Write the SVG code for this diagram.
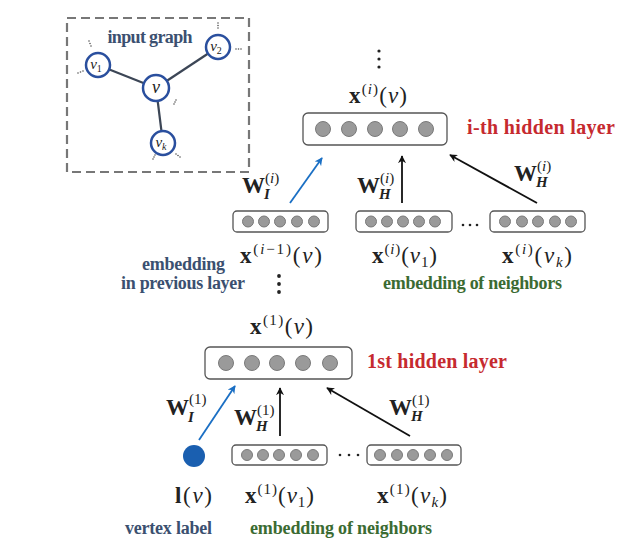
<svg xmlns="http://www.w3.org/2000/svg" width="643" height="556" viewBox="0 0 643 556">
<defs>
<style>
.m{font-family:"Liberation Serif","DejaVu Serif",serif;fill:#222;}
.b{font-weight:bold;}
.i{font-style:italic;}
.lbl{font-family:"Liberation Serif","DejaVu Serif",serif;font-weight:bold;font-size:18px;}
.slate{fill:#3b5070;}
.green{fill:#3b6b32;}
.red{fill:#c62a2f;font-size:20px;}
.box{fill:#fff;stroke:#555;stroke-width:1.3;}
.neu{fill:#9a9a9a;stroke:#7a7a7a;stroke-width:1;}
.gn{fill:#fff;stroke:#2a4f9e;stroke-width:2.5;}
.ge{stroke:#3c4656;stroke-width:2.2;}
.dot{fill:#222;}
.gd{fill:#555;}
.ab{stroke:#1a6fc4;stroke-width:1.8;fill:none;}
.ak{stroke:#111;stroke-width:1.8;fill:none;}
</style>
<marker id="hb" viewBox="0 0 10 10" refX="9" refY="5" markerWidth="8" markerHeight="8" orient="auto" markerUnits="userSpaceOnUse">
<path d="M0,0 L10,5 L0,10 L3,5 Z" fill="#1a6fc4"/>
</marker>
<marker id="hk" viewBox="0 0 10 10" refX="9" refY="5" markerWidth="8" markerHeight="8" orient="auto" markerUnits="userSpaceOnUse">
<path d="M0,0 L10,5 L0,10 L3,5 Z" fill="#111"/>
</marker>
</defs>
<rect width="643" height="556" fill="#fff"/>

<g id="input-graph">
<rect x="67" y="18" width="182" height="154" fill="none" stroke="#777" stroke-width="2.2" stroke-dasharray="9,5"/>
<text x="150" y="43" text-anchor="middle" class="lbl slate" textLength="85">input graph</text>
<line class="ge" x1="98" y1="65" x2="156" y2="88"/>
<line class="ge" x1="156" y1="88" x2="218" y2="47"/>
<line class="ge" x1="156" y1="88" x2="163" y2="143"/>
<circle class="gn" cx="98" cy="65" r="12"/>
<circle class="gn" cx="218" cy="47" r="12"/>
<circle class="gn" cx="156" cy="88" r="13"/>
<circle class="gn" cx="163" cy="143" r="12"/>
<text x="156" y="93" text-anchor="middle" class="m i" font-size="18">v</text>
<text x="96" y="69" text-anchor="middle" class="m i" font-size="15">v<tspan font-size="10" dy="3" font-style="normal">1</tspan></text>
<text x="216" y="51" text-anchor="middle" class="m i" font-size="15">v<tspan font-size="10" dy="3" font-style="normal">2</tspan></text>
<text x="161" y="147" text-anchor="middle" class="m i" font-size="15">v<tspan font-size="10" dy="3">k</tspan></text>
<g class="gd">
<circle cx="89" cy="41" r="0.8"/><circle cx="90" cy="43.5" r="0.8"/><circle cx="91" cy="46" r="0.8"/>
<circle cx="78" cy="73" r="0.8"/><circle cx="80.5" cy="72" r="0.8"/><circle cx="83" cy="71" r="0.8"/>
<circle cx="218" cy="23" r="0.8"/><circle cx="218" cy="25.5" r="0.8"/><circle cx="218" cy="28" r="0.8"/>
<circle cx="236" cy="49" r="0.8"/><circle cx="238.5" cy="49" r="0.8"/><circle cx="241" cy="49" r="0.8"/>
<circle cx="174" cy="104" r="0.8"/><circle cx="175" cy="102" r="0.8"/><circle cx="176" cy="100" r="0.8"/>
<circle cx="153" cy="159" r="0.8"/><circle cx="154" cy="157" r="0.8"/><circle cx="155" cy="155" r="0.8"/>
<circle cx="176" cy="154" r="0.8"/><circle cx="178" cy="155.5" r="0.8"/><circle cx="180" cy="157" r="0.8"/>
</g>
</g>

<g id="layer-i">
<g class="dot"><circle cx="379" cy="51" r="1.6"/><circle cx="379" cy="59" r="1.6"/><circle cx="379" cy="67" r="1.6"/></g>
<text x="378" y="103" text-anchor="middle" class="m" font-size="23" textLength="58"><tspan class="b">x</tspan><tspan font-size="15" dy="-9">(<tspan class="i">i</tspan>)</tspan><tspan dy="9">(<tspan class="i">v</tspan>)</tspan></text>
<rect class="box" x="303" y="113" width="144" height="32" rx="5"/>
<circle class="neu" cx="323" cy="129" r="7.5"/><circle class="neu" cx="349" cy="129" r="7.5"/><circle class="neu" cx="375" cy="129" r="7.5"/><circle class="neu" cx="400" cy="129" r="7.5"/><circle class="neu" cx="426" cy="129" r="7.5"/>
<text x="467" y="134" class="lbl red" textLength="148">i-th hidden layer</text>
</g>

<g id="prev-embedding">
<rect class="box" x="233" y="211" width="95" height="21" rx="4"/>
<circle class="neu" cx="248" cy="221.5" r="5.5"/><circle class="neu" cx="264" cy="221.5" r="5.5"/><circle class="neu" cx="280" cy="221.5" r="5.5"/><circle class="neu" cx="297" cy="221.5" r="5.5"/><circle class="neu" cx="314" cy="221.5" r="5.5"/>
<text x="281" y="263" text-anchor="middle" class="m" font-size="23" textLength="82"><tspan class="b">x</tspan><tspan font-size="15" dy="-9">(<tspan class="i">i</tspan>−1)</tspan><tspan dy="9">(<tspan class="i">v</tspan>)</tspan></text>
<text x="183.5" y="270" text-anchor="middle" class="lbl slate" textLength="83">embedding</text>
<text x="183" y="289" text-anchor="middle" class="lbl slate" textLength="124">in previous layer</text>
<g class="dot"><circle cx="279" cy="276" r="1.9"/><circle cx="279" cy="284" r="1.9"/><circle cx="279" cy="292" r="1.9"/></g>
</g>

<g id="neighbor-i-1">
<rect class="box" x="356" y="211" width="96" height="21" rx="4"/>
<circle class="neu" cx="371" cy="221.5" r="5.5"/><circle class="neu" cx="387" cy="221.5" r="5.5"/><circle class="neu" cx="403" cy="221.5" r="5.5"/><circle class="neu" cx="419" cy="221.5" r="5.5"/><circle class="neu" cx="435" cy="221.5" r="5.5"/>
<text x="404.5" y="263" text-anchor="middle" class="m" font-size="23" textLength="65"><tspan class="b">x</tspan><tspan font-size="15" dy="-9">(<tspan class="i">i</tspan>)</tspan><tspan dy="9">(<tspan class="i">v</tspan><tspan font-size="15" dy="4">1</tspan><tspan dy="-4">)</tspan></tspan></text>
</g>

<g class="dot"><circle cx="463" cy="225" r="1.3"/><circle cx="470" cy="225" r="1.3"/><circle cx="477" cy="225" r="1.3"/></g>

<g id="neighbor-i-k">
<rect class="box" x="490" y="211" width="95" height="21" rx="4"/>
<circle class="neu" cx="505" cy="221.5" r="5.5"/><circle class="neu" cx="522" cy="221.5" r="5.5"/><circle class="neu" cx="538" cy="221.5" r="5.5"/><circle class="neu" cx="555" cy="221.5" r="5.5"/><circle class="neu" cx="571" cy="221.5" r="5.5"/>
<text x="537" y="263" text-anchor="middle" class="m" font-size="23" textLength="70"><tspan class="b">x</tspan><tspan font-size="15" dy="-9">(<tspan class="i">i</tspan>)</tspan><tspan dy="9">(<tspan class="i">v</tspan><tspan font-size="15" dy="4" class="i">k</tspan><tspan dy="-4">)</tspan></tspan></text>
</g>
<text x="472.5" y="289" text-anchor="middle" class="lbl green" textLength="179">embedding of neighbors</text>

<g id="layer-1">
<text x="281.5" y="334" text-anchor="middle" class="m" font-size="23" textLength="63"><tspan class="b">x</tspan><tspan font-size="15" dy="-9">(1)</tspan><tspan dy="9">(<tspan class="i">v</tspan>)</tspan></text>
<rect class="box" x="205" y="347" width="147" height="32" rx="5"/>
<circle class="neu" cx="226" cy="363" r="7.5"/><circle class="neu" cx="252" cy="363" r="7.5"/><circle class="neu" cx="277" cy="363" r="7.5"/><circle class="neu" cx="303" cy="363" r="7.5"/><circle class="neu" cx="330" cy="363" r="7.5"/>
<text x="367" y="368" class="lbl red" textLength="140">1st hidden layer</text>
</g>

<g id="vertex-label">
<circle cx="194" cy="456" r="11" fill="#1a5fb0"/>
<text x="193.5" y="503" text-anchor="middle" class="m" font-size="23" textLength="37"><tspan class="b">l</tspan>(<tspan class="i">v</tspan>)</text>
<text x="168.5" y="534" text-anchor="middle" class="lbl slate" textLength="87">vertex label</text>
</g>

<g id="neighbor-1-1">
<rect class="box" x="232" y="445" width="95" height="20" rx="4"/>
<circle class="neu" cx="247" cy="455" r="5.5"/><circle class="neu" cx="263" cy="455" r="5.5"/><circle class="neu" cx="279" cy="455" r="5.5"/><circle class="neu" cx="296" cy="455" r="5.5"/><circle class="neu" cx="313" cy="455" r="5.5"/>
<text x="279.5" y="503" text-anchor="middle" class="m" font-size="23" textLength="69"><tspan class="b">x</tspan><tspan font-size="15" dy="-9">(1)</tspan><tspan dy="9">(<tspan class="i">v</tspan><tspan font-size="15" dy="4">1</tspan><tspan dy="-4">)</tspan></tspan></text>
</g>

<g class="dot"><circle cx="340" cy="455" r="1.3"/><circle cx="349" cy="455" r="1.3"/><circle cx="358" cy="455" r="1.3"/></g>

<g id="neighbor-1-k">
<rect class="box" x="367" y="445" width="94" height="20" rx="4"/>
<circle class="neu" cx="380" cy="455" r="5.5"/><circle class="neu" cx="397" cy="455" r="5.5"/><circle class="neu" cx="413" cy="455" r="5.5"/><circle class="neu" cx="430" cy="455" r="5.5"/><circle class="neu" cx="447" cy="455" r="5.5"/>
<text x="412" y="503" text-anchor="middle" class="m" font-size="23" textLength="70"><tspan class="b">x</tspan><tspan font-size="15" dy="-9">(1)</tspan><tspan dy="9">(<tspan class="i">v</tspan><tspan font-size="15" dy="4" class="i">k</tspan><tspan dy="-4">)</tspan></tspan></text>
</g>
<text x="341" y="534" text-anchor="middle" class="lbl green" textLength="182">embedding of neighbors</text>

<g id="connectors">
<line class="ab" x1="290" y1="203" x2="322" y2="158" marker-end="url(#hb)"/>
<line class="ak" x1="402" y1="203" x2="402" y2="156" marker-end="url(#hk)"/>
<line class="ak" x1="537" y1="203" x2="450" y2="155" marker-end="url(#hk)"/>
<line class="ab" x1="199" y1="440" x2="235" y2="386" marker-end="url(#hb)"/>
<line class="ak" x1="280" y1="436" x2="280" y2="388" marker-end="url(#hk)"/>
<line class="ak" x1="410" y1="436" x2="327" y2="388" marker-end="url(#hk)"/>
</g>

<g id="weights">
<text x="242" y="193" class="m b" font-size="23">W</text>
<text x="265" y="183" class="m" font-size="15">(<tspan class="i">i</tspan>)</text>
<text x="264" y="199" class="m b i" font-size="15">I</text>
<text x="357" y="193" class="m b" font-size="23">W</text>
<text x="380" y="183" class="m" font-size="15">(<tspan class="i">i</tspan>)</text>
<text x="379" y="199" class="m b i" font-size="15">H</text>
<text x="514" y="181" class="m b" font-size="23">W</text>
<text x="537" y="171" class="m" font-size="15">(<tspan class="i">i</tspan>)</text>
<text x="536" y="187" class="m b i" font-size="15">H</text>
<text x="166" y="415" class="m b" font-size="23">W</text>
<text x="189" y="404" class="m" font-size="15">(1)</text>
<text x="188" y="422" class="m b i" font-size="15">I</text>
<text x="234" y="425" class="m b" font-size="23">W</text>
<text x="257" y="415" class="m" font-size="15">(1)</text>
<text x="256" y="431" class="m b i" font-size="15">H</text>
<text x="389" y="415" class="m b" font-size="23">W</text>
<text x="412" y="405" class="m" font-size="15">(1)</text>
<text x="411" y="421" class="m b i" font-size="15">H</text>
</g>
</svg>
